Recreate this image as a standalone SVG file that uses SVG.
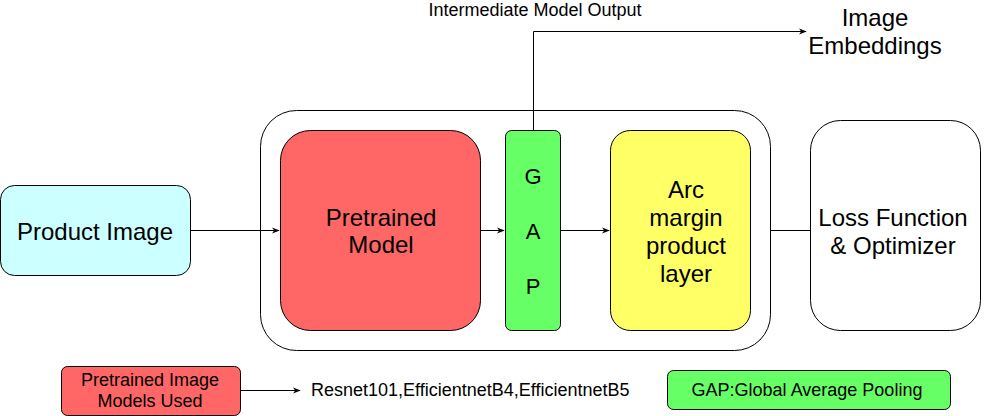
<svg xmlns="http://www.w3.org/2000/svg" width="986" height="416" viewBox="0 0 986 416">
<defs>
<style>
text{font-family:"Liberation Sans",Arial,sans-serif;fill:#000;text-anchor:middle;dominant-baseline:central}
.n{stroke:#000;stroke-width:1}
.big{font-size:24px}
.gap{font-size:22px}
.sm{font-size:18px}
.c{fill:none;stroke:#000;stroke-width:1}
</style>
<marker id="ah" viewBox="0 0 10 10" refX="9" refY="5" markerWidth="8" markerHeight="8" markerUnits="userSpaceOnUse" orient="auto">
<path d="M0,1 L10,5 L0,9 L3,5 Z" fill="#000"/>
</marker>
</defs>
<rect width="986" height="416" fill="#fff"/>
<g id="container"><rect class="n" x="260.5" y="110.5" width="510" height="240" rx="36" fill="#fff"/></g>
<g id="connectors">
<path class="c" d="M190,230.5 H279" marker-end="url(#ah)"/>
<path class="c" d="M480,230.5 H504" marker-end="url(#ah)"/>
<path class="c" d="M560,230.5 H609" marker-end="url(#ah)"/>
<path class="c" d="M770,230.5 H810"/>
<path class="c" d="M533.5,130 V31.5 H806" marker-end="url(#ah)"/>
<path class="c" d="M240,390.5 H300" marker-end="url(#ah)"/>
</g>
<g id="product"><rect class="n" x="0.5" y="185.5" width="190" height="90" rx="14" fill="#CCFFFF"/><text class="big" x="95" y="231">Product Image</text></g>
<g id="pretrained"><rect class="n" x="280.5" y="130.5" width="200" height="200" rx="30" fill="#FF6666"/><text class="big" x="381" y="217">Pretrained</text><text class="big" x="381" y="244">Model</text></g>
<g id="gap"><rect class="n" x="505.5" y="130.5" width="55" height="200" rx="6" fill="#66FF66"/><text class="gap" x="533" y="176">G</text><text class="gap" x="533" y="231">A</text><text class="gap" x="533" y="286">P</text></g>
<g id="arc"><rect class="n" x="610.5" y="130.5" width="140" height="200" rx="20" fill="#FFFF66"/><text class="big" x="686" y="189">Arc</text><text class="big" x="686" y="217">margin</text><text class="big" x="686" y="245">product</text><text class="big" x="686" y="273">layer</text></g>
<g id="loss"><rect class="n" x="810.5" y="120.5" width="170" height="210" rx="30" fill="#fff"/><text class="big" x="893" y="217">Loss Function</text><text class="big" x="893" y="245">&amp; Optimizer</text></g>
<g id="intermediate"><text class="sm" x="535" y="10">Intermediate Model Output</text></g>
<g id="embeddings"><text class="big" x="875" y="17">Image</text><text class="big" x="875" y="45">Embeddings</text></g>
<g id="legend-models"><rect class="n" x="61.5" y="366.5" width="179" height="49" rx="6" fill="#FF6666"/><text class="sm" x="150" y="380">Pretrained Image</text><text class="sm" x="150" y="401">Models Used</text></g>
<g id="models-list"><text class="sm" x="311" y="390" style="text-anchor:start">Resnet101,EfficientnetB4,EfficientnetB5</text></g>
<g id="legend-gap"><rect class="n" x="667.5" y="370.5" width="283" height="39" rx="6" fill="#66FF66"/><text class="sm" x="807" y="390">GAP:Global Average Pooling</text></g>
</svg>
